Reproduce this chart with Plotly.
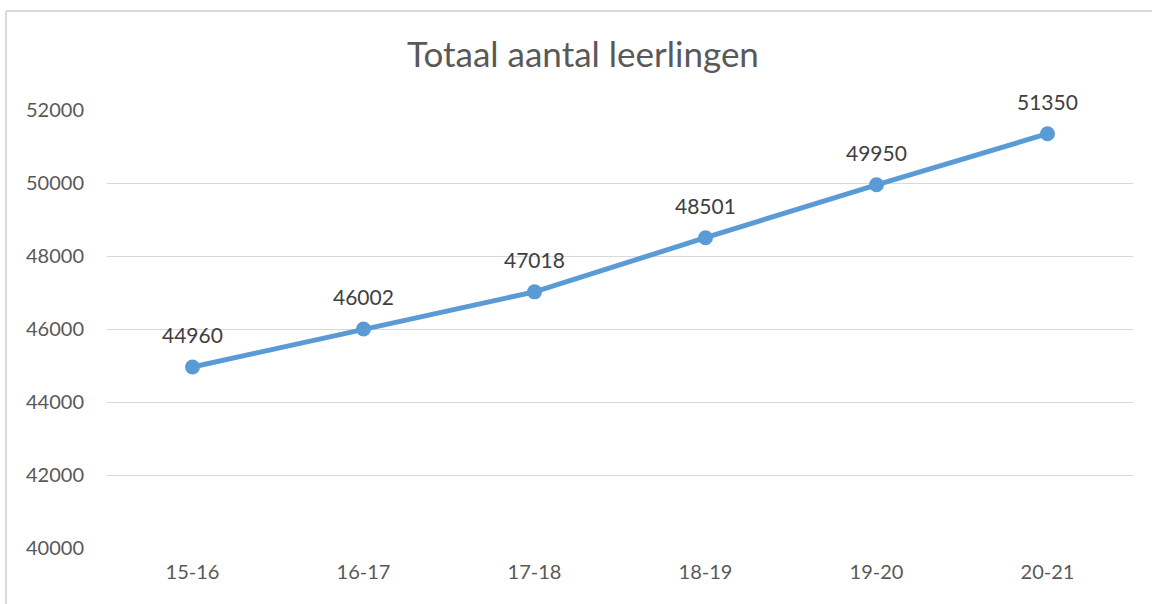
import plotly.graph_objects as go

categories = ["15-16", "16-17", "17-18", "18-19", "19-20", "20-21"]
values = [44960, 46002, 47018, 48501, 49950, 51350]
y_ticks = [40000, 42000, 44000, 46000, 48000, 50000, 52000]

W, H = 1152, 604
L, R, T, B = 107, 19, 110, 56
pw, ph = W - L - R, H - T - B
FONT = "Lato, Open Sans, sans-serif"

fig = go.Figure()
fig.add_trace(go.Scatter(
    x=categories, y=values,
    mode="lines+markers",
    line=dict(color="#5B9BD5", width=5),
    marker=dict(color="#5B9BD5", size=15),
    cliponaxis=False,
    hoverinfo="x+y",
))

annotations = [
    dict(x=c, y=v, xref="x", yref="y", text=str(v), showarrow=False,
         yshift=32, font=dict(family=FONT, size=21, color="#404040"))
    for c, v in zip(categories, values)
]

bx0 = (6 - L) / pw
by1 = 1 + (T - 11) / ph
border = dict(color="#D9D9D9", width=2)

fig.update_layout(
    width=W, height=H,
    margin=dict(l=L, r=R, t=T, b=B),
    paper_bgcolor="white", plot_bgcolor="white",
    showlegend=False,
    title=dict(text="Totaal aantal leerlingen", x=583 / W, xanchor="center",
               y=1 - 55 / H, yanchor="middle",
               font=dict(family=FONT, size=35, color="#595959")),
    xaxis=dict(type="category", range=[-0.5, 5.5], showgrid=False, zeroline=False,
               showline=False, ticks="", ticklabelstandoff=10,
               tickfont=dict(family=FONT, size=20, color="#595959")),
    yaxis=dict(range=[40000, 52000], tickvals=y_ticks, ticktext=[str(t) for t in y_ticks],
               showgrid=True, gridcolor="#D9D9D9", gridwidth=1.3, zeroline=False,
               showline=False, ticks="", ticklabelstandoff=22,
               tickfont=dict(family=FONT, size=20, color="#595959")),
    annotations=annotations,
    shapes=[
        dict(type="line", xref="paper", yref="paper", x0=bx0, x1=1.2, y0=by1, y1=by1,
             line=border, layer="below"),
        dict(type="line", xref="paper", yref="paper", x0=bx0, x1=bx0, y0=-0.3, y1=by1,
             line=border, layer="below"),
    ],
)

fig.write_html(
    "out.html",
    config={"displayModeBar": False},
    post_script="document.body.style.margin='0';document.body.style.overflow='hidden';"
                "document.documentElement.style.overflow='hidden';",
)
